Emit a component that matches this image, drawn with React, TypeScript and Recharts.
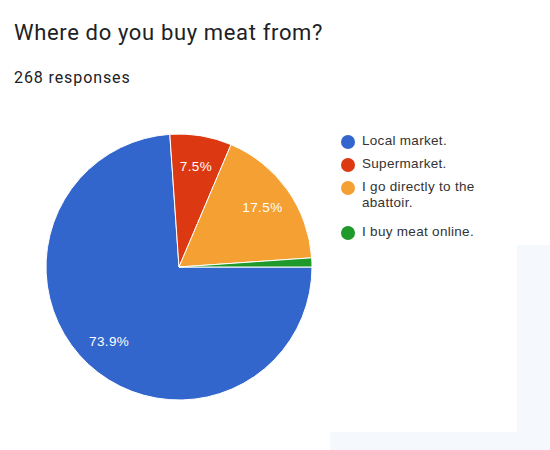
import React from 'react';
import { PieChart, Pie, Cell } from 'recharts';

const categories = [
  'Local market.',
  'Supermarket.',
  'I go directly to the abattoir.',
  'I buy meat online.'
];
const percents = [73.9, 7.5, 17.5, 1.1];
const colors = ['#3366cc', '#dc3912', '#f5a032', '#1f9a2a'];

const chartData = categories.map((name, i) => ({ name, value: percents[i] }));

const RADIAN = Math.PI / 180;

function renderLabel({ cx, cy, midAngle, outerRadius, value }: any) {
  if (value < 5) return null;
  const r = outerRadius * 0.77;
  const x = cx + r * Math.cos(-midAngle * RADIAN);
  const y = cy + r * Math.sin(-midAngle * RADIAN);
  return (
    <text
      x={x}
      y={y}
      fill="#ffffff"
      textAnchor="middle"
      dominantBaseline="central"
      fontSize={13.5}
      letterSpacing={0.4}
      fontFamily="Liberation Sans, Arial, sans-serif"
    >
      {`${value.toFixed(1)}%`}
    </text>
  );
}

function ChartLegend() {
  return (
    <div
      style={{
        position: 'absolute',
        left: 341,
        top: 133,
        fontFamily: 'Liberation Sans, Arial, sans-serif',
        fontSize: 13.5,
        letterSpacing: 0.3,
        color: '#333'
      }}
    >
      {categories.map((name, i) => (
        <div
          key={name}
          style={{
            display: 'flex',
            alignItems: 'flex-start',
            marginBottom: name.length > 20 ? 13 : 7,
            lineHeight: '16px'
          }}
        >
          <span
            style={{
              width: 14,
              height: 14,
              borderRadius: '50%',
              background: colors[i],
              flex: '0 0 14px',
              marginTop: 2,
              marginRight: 7
            }}
          />
          <span style={{ width: 125 }}>{name}</span>
        </div>
      ))}
    </div>
  );
}

export default function App() {
  return (
    <div style={{ position: 'absolute', left: 0, top: 0, width: 550, height: 450, background: '#fff', overflow: 'hidden' }}>
      {/* faint page shapes behind the card */}
      <div style={{ position: 'absolute', left: 517, top: 245, width: 40, height: 210, background: '#f5f8fc' }} />
      <div style={{ position: 'absolute', left: 330, top: 432, width: 230, height: 20, background: '#f5f8fc' }} />
      <div
        style={{
          position: 'absolute',
          left: 14,
          top: 20,
          fontFamily: 'Roboto, sans-serif',
          fontSize: 22,
          letterSpacing: 0.65,
          color: '#202124'
        }}
      >
        Where do you buy meat from?
      </div>
      <div
        style={{
          position: 'absolute',
          left: 14,
          top: 68,
          fontFamily: 'Roboto, sans-serif',
          fontSize: 16,
          letterSpacing: 0.9,
          color: '#202124'
        }}
      >
        268 responses
      </div>
      <div style={{ position: 'absolute', left: 0, top: 0 }}>
        <PieChart width={550} height={450}>
          <Pie
            data={chartData}
            dataKey="value"
            nameKey="name"
            cx={174}
            cy={262}
            outerRadius={133}
            startAngle={0}
            endAngle={-360}
            stroke="#ffffff"
            strokeWidth={1}
            label={renderLabel}
            labelLine={false}
            isAnimationActive={false}
          >
            {chartData.map((d, i) => (
              <Cell key={d.name} fill={colors[i]} />
            ))}
          </Pie>
        </PieChart>
      </div>
      <ChartLegend />
    </div>
  );
}
